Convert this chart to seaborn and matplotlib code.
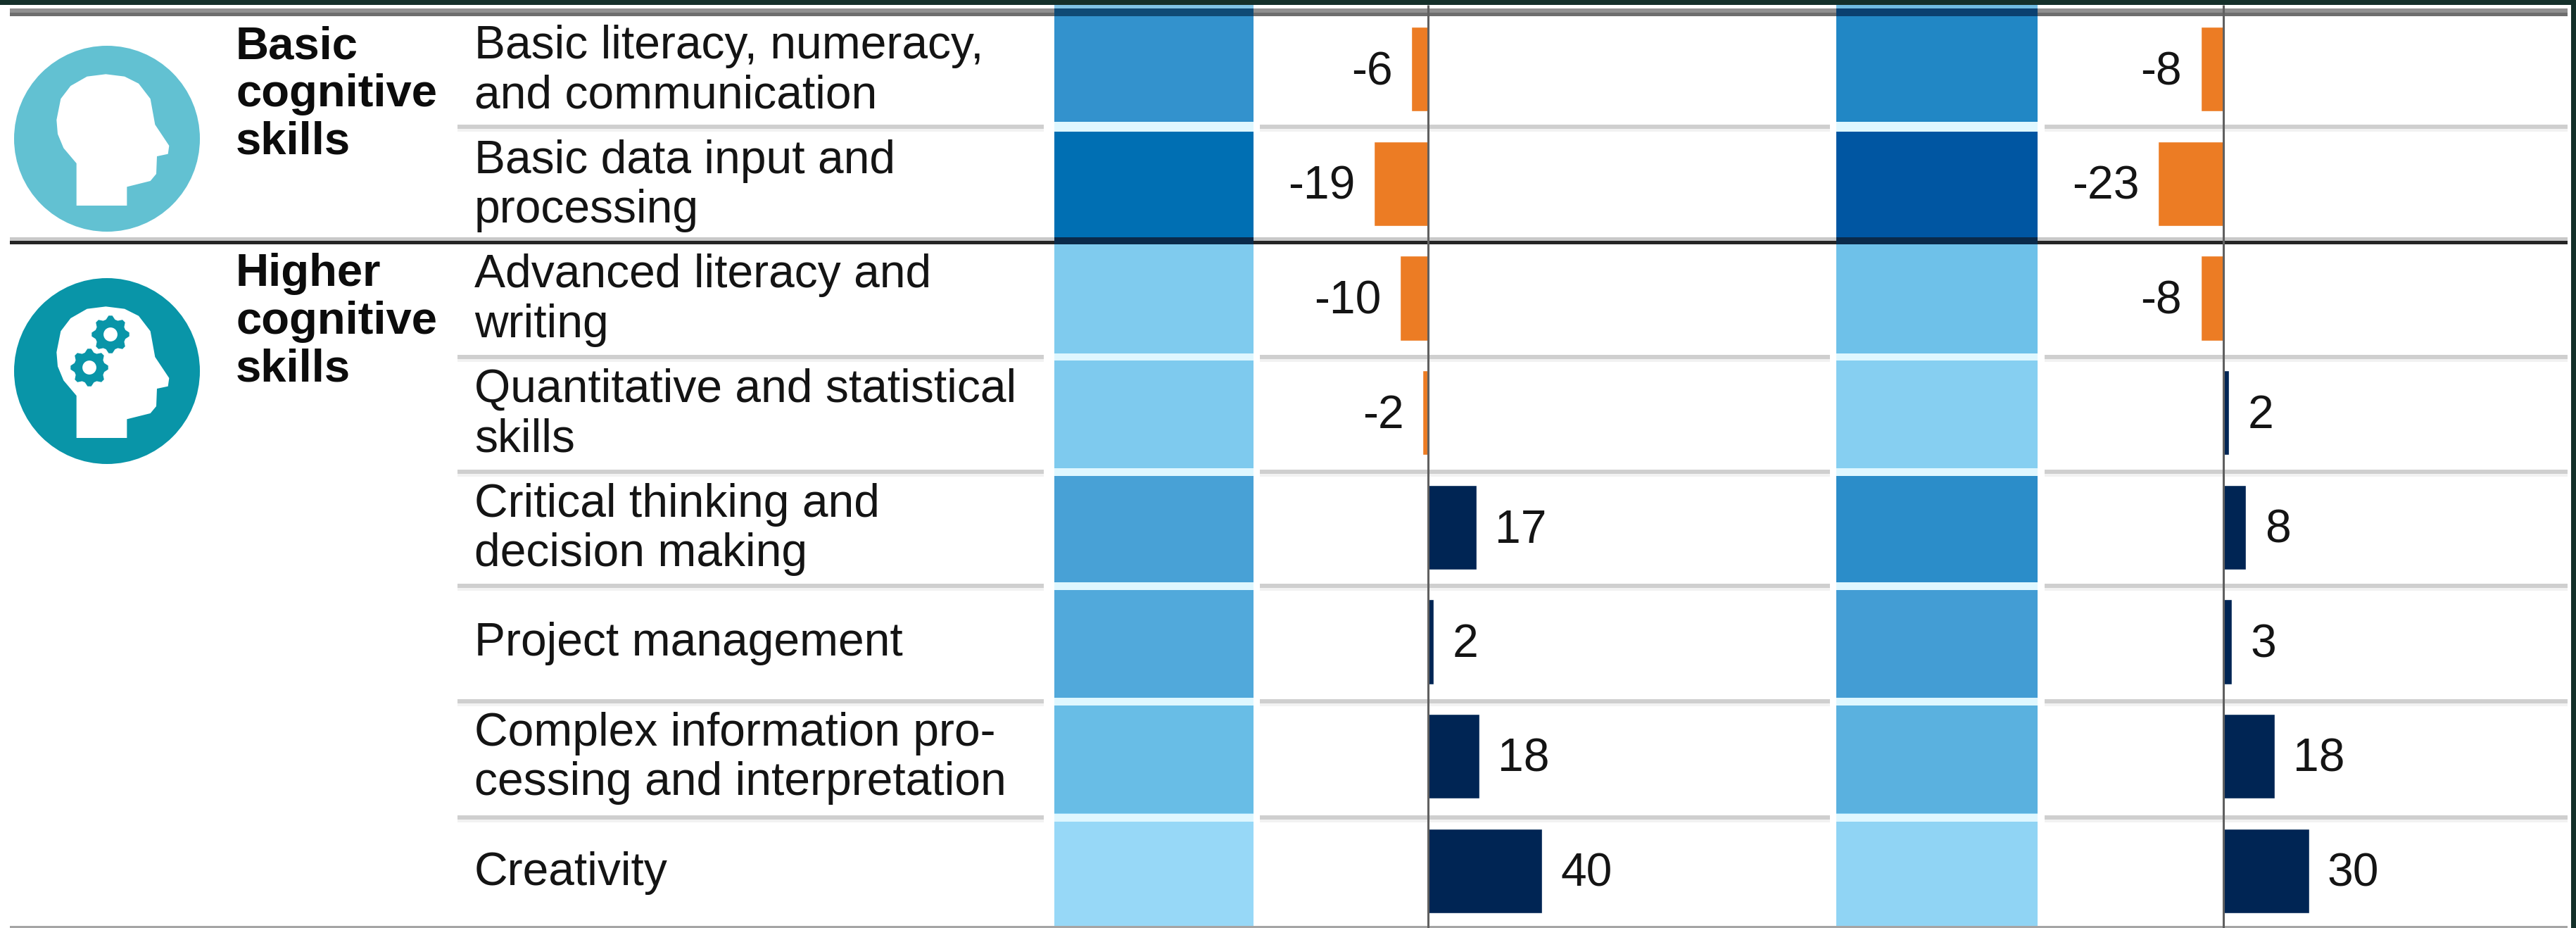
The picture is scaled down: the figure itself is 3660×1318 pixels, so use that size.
import matplotlib
matplotlib.use("Agg")
import matplotlib.pyplot as plt
from matplotlib.colors import LinearSegmentedColormap
from matplotlib.patches import Circle, Polygon, Rectangle
import numpy as np
import pandas as pd
import seaborn as sns

skills = ["Basic literacy, numeracy,\nand communication",
          "Basic data input and\nprocessing",
          "Advanced literacy and\nwriting",
          "Quantitative and statistical\nskills",
          "Critical thinking and\ndecision making",
          "Project management",
          "Complex information pro-\ncessing and interpretation",
          "Creativity"]
bar_left = [-6, -19, -10, -2, 17, 2, 18, 40]
bar_right = [-8, -23, -8, 2, 8, 3, 18, 30]
heat_left = [55, 78, 15, 16, 45, 40, 27, 2]
heat_right = [62, 98, 24, 11, 58, 48, 35, 6]
groups = ["Basic\ncognitive\nskills", "Higher\ncognitive\nskills"]

W, H = 3660, 1318
sns.set_theme(style="white")
plt.rcParams["font.family"] = ["Liberation Sans", "DejaVu Sans"]
fig = plt.figure(figsize=(W / 100, H / 100), dpi=100, facecolor="white")
FS = 47.5
INK = "#141414"

def rect(x0, y0, x1, y1):
    return [x0 / W, 1 - y1 / H, (x1 - x0) / W, (y1 - y0) / H]

cmap = LinearSegmentedColormap.from_list("b", [(0, "#9bdaf8"), (.25, "#6cc0e8"), (.5, "#3f9ad2"), (.75, "#0073b6"), (1, "#0054a0")])
TOP, BOT = 17, 1318
for x0, x1, vals in [(1498, 1781, heat_left), (2609, 2895, heat_right)]:
    ax = fig.add_axes(rect(x0, TOP, x1, BOT))
    sns.heatmap(pd.DataFrame({"v": vals}), ax=ax, cmap=cmap, vmin=0, vmax=100, cbar=False, xticklabels=False, yticklabels=False)

PX = 4.05
for zero, x0, x1, vals in [(2029, 1790, 2600, bar_left), (3159, 2905, 3648, bar_right)]:
    ax = fig.add_axes(rect(x0, TOP, x1, BOT))
    ax.patch.set_alpha(0)
    df = pd.DataFrame({"s": skills, "v": vals, "sign": ["n" if v < 0 else "p" for v in vals]})
    sns.barplot(df, x="v", y="s", hue="sign", palette={"n": "#ec7c24", "p": "#002554"}, hue_order=["n", "p"],
                dodge=False, width=.74, legend=False, ax=ax, orient="h", saturation=1)
    for c in ax.containers:
        for t in ax.bar_label(c, fmt="%d", padding=19, fontsize=FS, color=INK):
            t.xyann = (t.xyann[0], t.xyann[1] - 3.5)
    ax.set_xlim((x0 - zero) / PX, (x1 - zero) / PX)
    ax.set_ylim(7.5, -.5)
    ax.set_xlabel(""); ax.set_ylabel("")
    ax.set_xticks([]); ax.set_yticks([])
    for s in ax.spines.values():
        s.set_visible(False)

ov = fig.add_axes([0, 0, 1, 1], zorder=5)
ov.set_xlim(0, W); ov.set_ylim(H, 0); ov.axis("off"); ov.patch.set_alpha(0)

# top band and rules
R = 3648
ov.add_patch(Rectangle((1498, 7), 283, 6, color="#7fc4e6", lw=0))
ov.add_patch(Rectangle((2609, 7), 286, 6, color="#70bce2", lw=0))
def hl(y, x0, x1, c, t):
    ov.add_patch(Rectangle((x0, y - t / 2), x1 - x0, t, color=c, lw=0))
hl(15, 14, R, "#909090", 6); hl(20.5, 14, R, "#6e6e6e", 5)
hl(17.5, 1498, 1781, "#0f4a75", 11); hl(17.5, 2609, 2895, "#0a4070", 11)
for y, gap in [(180, 14), (507, 10), (670, 11), (832, 11), (996, 11), (1161, 11)]:
    for a, b in [(650, 1483), (1790, 2600), (2905, R)]:
        hl(y, a, b, "#cfcfcf", 6)
        hl(y + 5, a, b, "#f2f2f2", 4)
    for a, b in [(1498, 1781), (2609, 2895)]:
        hl(y, a, b, "#dff7ff", gap)
hl(1316.5, 14, R, "#a5a5a5", 3)
hl(339.5, 14, R, "#c8c8c8", 5)
hl(344.5, 14, R, "#252525", 5)
hl(342, 1498, 1781, "#0a2a4a", 10); hl(342, 2609, 2895, "#0a2a4a", 10)
for x in (2029, 3159):
    ov.plot([x, x], [7, H], color="#606060", lw=2.2, solid_capstyle="butt")
ov.add_patch(Rectangle((0, 0), W, 7, color="#14302a", lw=0))
ov.add_patch(Rectangle((3653, 0), 7, H, color="#14302a", lw=0))

# text
for i, s in enumerate(skills):
    y = TOP + (BOT - TOP) / 8 * (i + .5) + 3
    ov.text(674, y, s, fontsize=FS, va="center", ha="left", color=INK, linespacing=1.17)
ov.text(335, 134, groups[0], fontsize=FS * .99, fontweight="bold", va="center", color="#0c0c0c", linespacing=1.17)
ov.text(335, 457, groups[1], fontsize=FS * .99, fontweight="bold", va="center", color="#0c0c0c", linespacing=1.17)

# icons
HEAD = (np.array([(240,360),(258,270),(300,215),(370,175),(450,165),(530,175),(590,205),(640,270),(660,380),
                  (720,470),(715,505),(668,515),(665,590),(640,620),(540,645),(540,725),(325,725),(325,545),
                  (270,480),(245,420)]) - [455, 440]) / 3
def gear(cx, cy, r, c):
    n = 32
    ang = np.linspace(0, 2 * np.pi, n + 1)[:-1]
    rr = np.where((np.arange(n) % 4) < 2, r * 1.22, r)
    ov.add_patch(Polygon(np.c_[cx + rr * np.cos(ang - .1), cy + rr * np.sin(ang - .1)], color=c, lw=0))
    ov.add_patch(Circle((cx, cy), r * .45, color="white", lw=0))
for cy, c in [(197, "#62c1d2"), (527, "#0995a8")]:
    ov.add_patch(Circle((152, cy), 132, color=c, lw=0))
    ov.add_patch(Polygon(HEAD + [152, cy], color="white", lw=0))
gear(157, 475, 22, "#0995a8")
gear(127, 522, 22, "#0995a8")

fig.savefig("out.png", dpi=100)
